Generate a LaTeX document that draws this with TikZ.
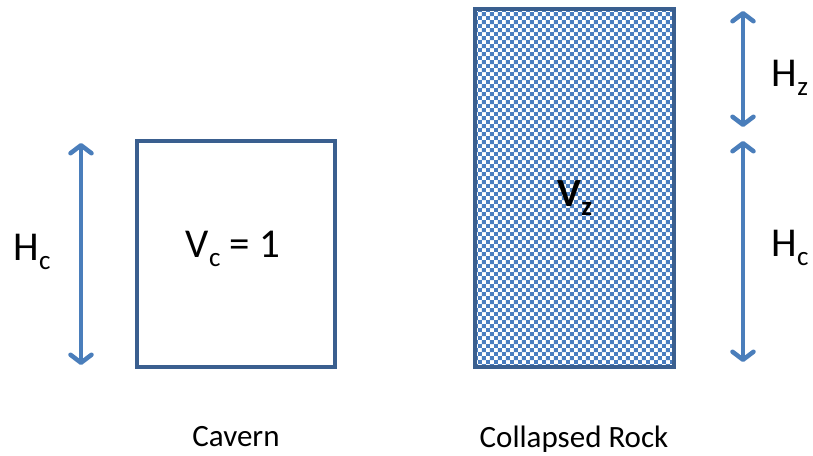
\documentclass[tikz,border=0pt]{standalone}
\usepackage{fontspec}
\setmainfont{Carlito}
\usetikzlibrary{arrows.meta,patterns.meta}
\definecolor{boxblue}{HTML}{3A5F8F}
\definecolor{arrowblue}{HTML}{4A7EBB}
\definecolor{checkblue}{HTML}{4A7EC0}
\tikzdeclarepattern{
  name=checkpat,
  type=uncolored,
  bounding box={(0pt,0pt) and (8.4pt,8.4pt)},
  tile size={(8.4pt,8.4pt)},
  code={\fill (0pt,0pt) rectangle (4.2pt,4.2pt); \fill (4.2pt,4.2pt) rectangle (8.4pt,8.4pt);}
}
\newcommand{\mysub}[1]{\raisebox{-0.22em}{\fontsize{27}{30}\selectfont #1}}
\tikzset{
  boxline/.style={draw=boxblue, line width=3.5pt},
  dimarrow/.style={draw=arrowblue, line width=4.5pt, {Straight Barb[length=8pt,width=21pt,line width=4.5pt,round]}-{Straight Barb[length=8pt,width=21pt,line width=4.5pt,round]}, shorten <=2pt, shorten >=2pt},
  biglabel/.style={font=\fontsize{41}{45}\selectfont, inner sep=0pt},
  smalllabel/.style={font=\fontsize{31}{34}\selectfont, inner sep=0pt}
}
\begin{document}
\begin{tikzpicture}[x=1pt,y=-1pt]
\useasboundingbox (0,0) rectangle (813,455);
% cavern box
\draw[boxline] (137,141) rectangle (335,367);
\node[biglabel] (vc) at (233,249) {V\mysub{c} = 1};
% collapsed rock box
\fill[pattern=checkpat, pattern color=checkblue] (475,9) rectangle (674,367);
\draw[boxline] (475,9) rectangle (674,367);
\node[biglabel, font=\fontsize{40}{44}\selectfont\bfseries] (vz) at (575,198) {V\mysub{z}};
% left arrow
\coordinate (la1) at (81,141);
\coordinate (la2) at (81,367);
\draw[dimarrow] (la1) -- (la2);
\node[biglabel] (hcl) at (32,252) {H\mysub{c}};
% right arrows
\coordinate (ra1) at (743,9);
\coordinate (ra2) at (743,129);
\coordinate (ra3) at (743,139);
\coordinate (ra4) at (743,364);
\draw[dimarrow] (ra1) -- (ra2);
\draw[dimarrow] (ra3) -- (ra4);
\node[biglabel] (hz) at (790,78) {H\mysub{z}};
\node[biglabel] (hcr) at (790,248) {H\mysub{c}};
% captions
\node[smalllabel] (cav) at (236,437) {Cavern};
\node[smalllabel] (col) at (574,439) {Collapsed Rock};
\end{tikzpicture}
\end{document}
